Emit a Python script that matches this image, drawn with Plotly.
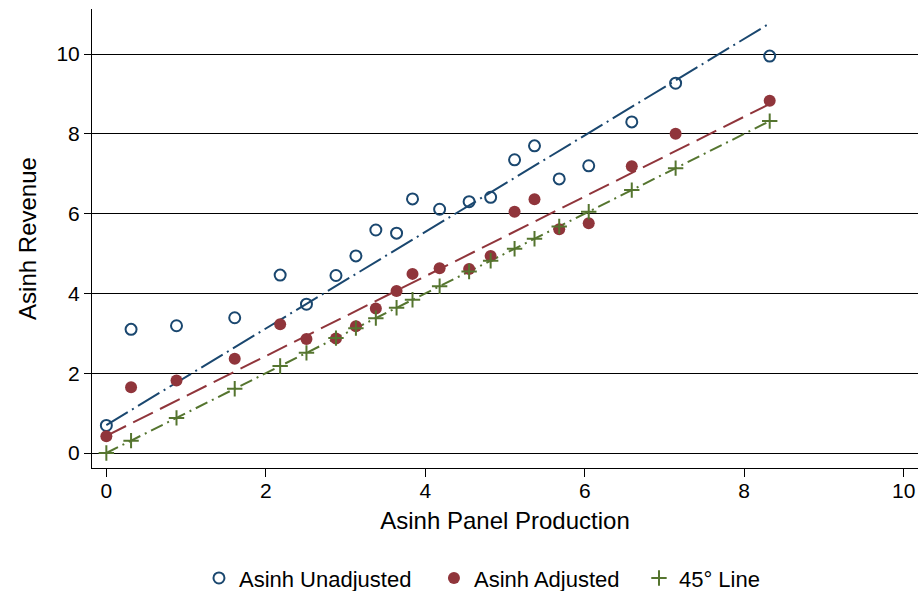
import plotly.graph_objects as go

# Asinh-transformed panel production and revenue per observation
production = [0, 0.31, 0.88, 1.61, 2.18, 2.51, 2.88, 3.13, 3.38, 3.64, 3.84,
              4.18, 4.55, 4.82, 5.12, 5.37, 5.68, 6.05, 6.59, 7.14, 8.32]
revenue_unadjusted = [0.69, 3.10, 3.19, 3.39, 4.46, 3.73, 4.45, 4.94, 5.59, 5.51, 6.37,
                      6.11, 6.30, 6.41, 7.35, 7.70, 6.87, 7.20, 8.30, 9.27, 9.95]
revenue_adjusted = [0.42, 1.65, 1.82, 2.36, 3.23, 2.86, 2.87, 3.18, 3.62, 4.06, 4.49,
                    4.63, 4.61, 4.94, 6.05, 6.36, 5.61, 5.76, 7.19, 8.00, 8.83]

# Linear fit endpoints
fit_x = [0, 8.32]
fit_unadjusted = [0.70, 10.77]
fit_adjusted = [0.43, 8.75]

x_ticks = [0, 2, 4, 6, 8, 10]
y_ticks = [0, 2, 4, 6, 8, 10]

NAVY = "#1a476f"
MAROON = "#90353b"
GREEN = "#55752f"
FONT = "Liberation Sans, Arial, sans-serif"

fig = go.Figure()

# fitted lines (no legend entries)
fig.add_trace(go.Scatter(x=fit_x, y=fit_unadjusted, mode="lines", showlegend=False,
                         line=dict(color=NAVY, width=2, dash="25px,5px,2px,5px"),
                         hoverinfo="skip"))
fig.add_trace(go.Scatter(x=fit_x, y=fit_adjusted, mode="lines", showlegend=False,
                         line=dict(color=MAROON, width=2, dash="22px,8px"),
                         hoverinfo="skip"))
fig.add_trace(go.Scatter(x=production, y=production, mode="lines", showlegend=False,
                         line=dict(color=GREEN, width=2, dash="13px,5px,2px,5px"),
                         hoverinfo="skip"))

# scatter markers, one legend box per series so each entry can be placed
fig.add_trace(go.Scatter(x=production, y=revenue_unadjusted, mode="markers",
                         name="Asinh Unadjusted", legend="legend",
                         marker=dict(symbol="circle-open", size=11, color=NAVY,
                                     line=dict(width=2, color=NAVY))))
fig.add_trace(go.Scatter(x=production, y=revenue_adjusted, mode="markers",
                         name="Asinh Adjusted", legend="legend2",
                         marker=dict(symbol="circle", size=12, color=MAROON)))
fig.add_trace(go.Scatter(x=production, y=production, mode="markers",
                         name="45° Line", legend="legend3",
                         marker=dict(symbol="cross-thin", size=11, color=GREEN,
                                     line=dict(width=2, color=GREEN))))

legend_style = dict(orientation="h", xanchor="left", y=-0.24, yanchor="middle",
                    font=dict(size=22, family=FONT), bgcolor="rgba(0,0,0,0)")

fig.update_layout(
    width=922, height=591,
    margin=dict(l=92, r=4, t=9, b=123, autoexpand=False),
    paper_bgcolor="white", plot_bgcolor="white",
    font=dict(family=FONT, size=21, color="black"),
    showlegend=True,
    legend=dict(x=0.1295, **legend_style),
    legend2=dict(x=0.4140, **legend_style),
    legend3=dict(x=0.6622, **legend_style),
    xaxis=dict(range=[-0.18, 10.18], tickvals=x_ticks, ticks="outside", ticklen=8,
               tickwidth=1, tickcolor="black", showline=True, linecolor="black",
               linewidth=1, showgrid=False, zeroline=False, automargin=False,
               tickfont=dict(size=21), ticklabelstandoff=-4,
               title=dict(text="Asinh Panel Production", font=dict(size=24), standoff=10)),
    yaxis=dict(range=[-0.376, 11.13], tickvals=y_ticks, ticks="outside", ticklen=7,
               tickwidth=1, tickcolor="black", showline=True, linecolor="black",
               linewidth=1, showgrid=True, gridcolor="black", gridwidth=1,
               zeroline=False, automargin=False, tickfont=dict(size=21),
               title=dict(text="Asinh Revenue", font=dict(size=24), standoff=13)),
)

fig.write_html("out.html")
